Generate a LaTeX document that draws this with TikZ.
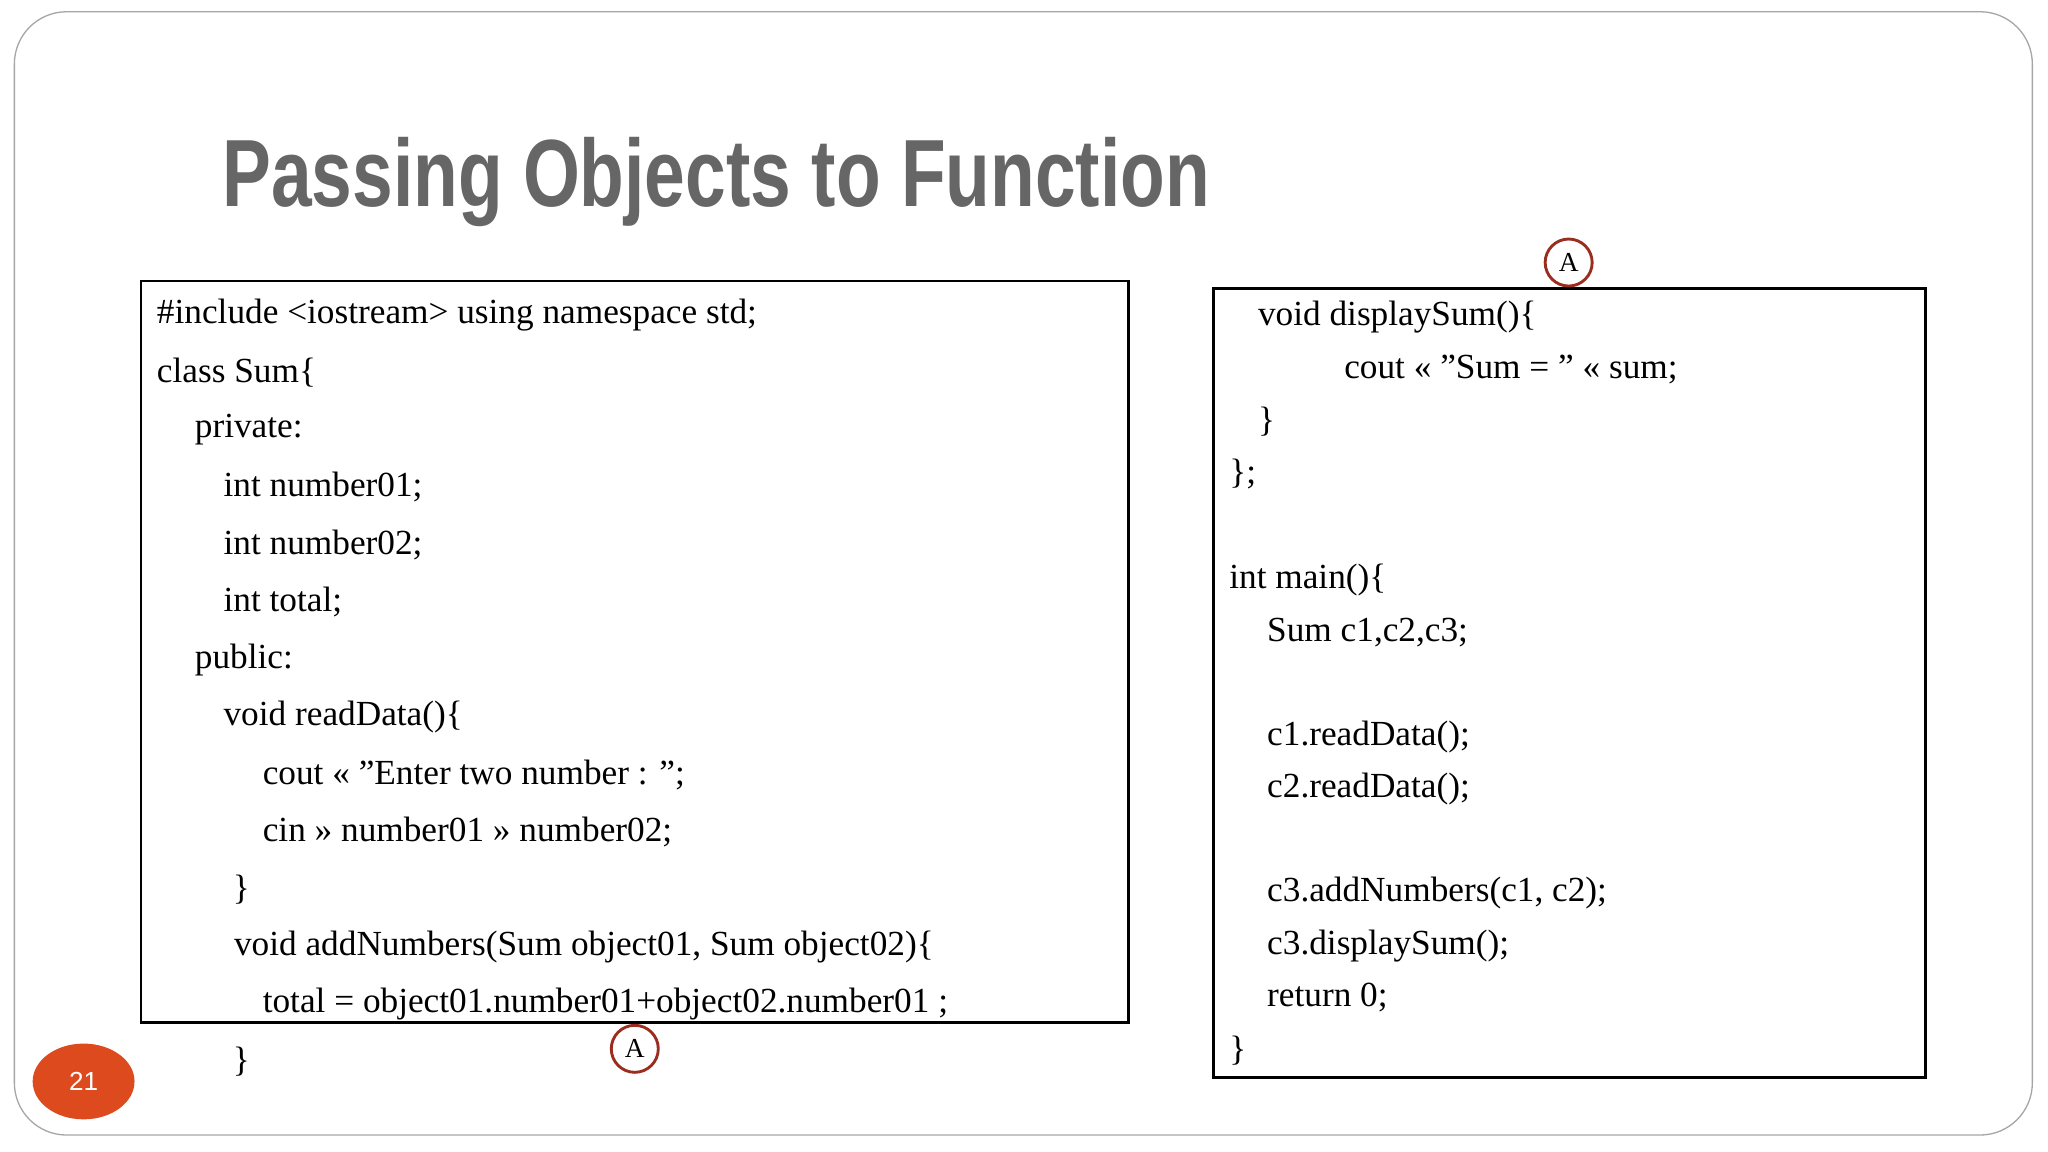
\documentclass[tikz,border=0pt]{standalone}
\usetikzlibrary{shapes.geometric}
\usepackage{fontspec}
\setmainfont{Liberation Serif}
\newfontfamily\titlefont{Liberation Sans}
\definecolor{tgray}{HTML}{666666}
\definecolor{cred}{HTML}{9B2D1F}
\definecolor{porange}{HTML}{DD4A1E}
\begin{document}
\begin{tikzpicture}[x=1pt,y=-1pt,
  code/.style={anchor=west,inner sep=0pt,font=\fontsize{27}{30}\selectfont},
  markA/.style={circle,draw=cred,line width=2.2pt,inner sep=0pt,minimum size=36pt,font=\fontsize{21}{24}\selectfont}]
\useasboundingbox (0,0) rectangle (1568,882);
\fill[white] (0,0) rectangle (1568,882);
\draw[gray!70,line width=1pt,rounded corners=40pt] (11,9) rectangle (1556,869);
\node[anchor=base west,inner sep=0pt,text=tgray] (title) at (170,158) {\resizebox{756pt}{53pt}{\titlefont\bfseries Passing Objects to Function}};
\draw[line width=2pt] (108,215) rectangle (864,783);
\draw[line width=2pt] (929,221) rectangle (1474,825);
\node[code] (l1) at (120,241) {\#include <iostream> using namespace std;};
\node[code] (l2) at (120,285) {class Sum\{};
\node[code] (l3) at (149,329) {private:};
\node[code] (l4) at (171,373) {int number01;};
\node[code] (l5) at (171,417) {int number02;};
\node[code] (l6) at (171,461) {int total;};
\node[code] (l7) at (149,505) {public:};
\node[code] (l8) at (171,549) {void readData()\{};
\node[code] (l9) at (201,593) {cout << "Enter two number : ";};
\node[code] (l10) at (201,637) {cin >> number01 >> number02;};
\node[code] (l11) at (178,681) {\}};
\node[code] (l12) at (179,725) {void addNumbers(Sum object01, Sum object02)\{};
\node[code] (l13) at (201,769) {total = object01.number01+object02.number01 ;};
\node[code] (l14) at (178,813) {\}};
\node[code] (r1) at (963,243) {void displaySum()\{};
\node[code] (r2) at (1029,283) {cout << "Sum = " << sum;};
\node[code] (r3) at (963,323) {\}};
\node[code] (r4) at (941,363) {\};};
\node[code] (r5) at (941,444) {int main()\{};
\node[code] (r6) at (970,484) {Sum c1,c2,c3;};
\node[code] (r7) at (970,564) {c1.readData();};
\node[code] (r8) at (970,604) {c2.readData();};
\node[code] (r9) at (970,684) {c3.addNumbers(c1, c2);};
\node[code] (r10) at (970,724) {c3.displaySum();};
\node[code] (r11) at (970,764) {return 0;};
\node[code] (r12) at (941,804) {\}};
\node[markA,fill=white] (a1) at (1201,201) {A};
\node[markA,fill=white] (a2) at (486,803) {A};
\node[ellipse,fill=porange,minimum width=78pt,minimum height=58pt,inner sep=0pt,text=white,font=\titlefont\fontsize{20}{22}\selectfont] (pg) at (64,828) {21};
\end{tikzpicture}
\end{document}
